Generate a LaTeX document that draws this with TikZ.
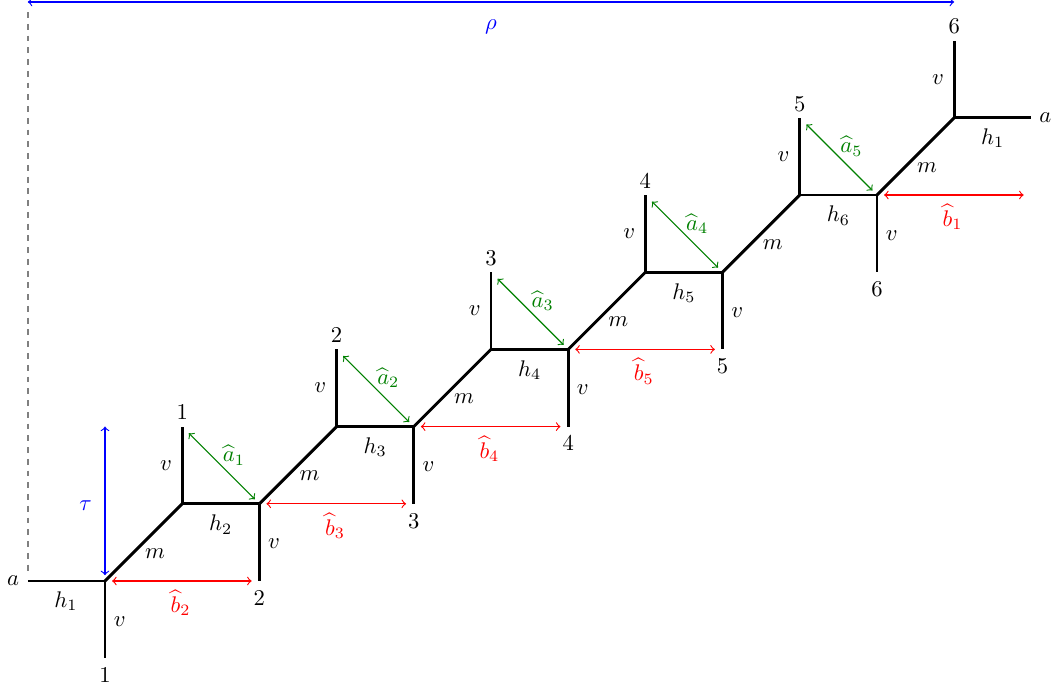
\documentclass[tikz,border=0pt]{standalone}
\begin{document}
\begin{tikzpicture}[x=1.2cm,y=1.2cm,
  leg/.style={line width=1.3pt,black},
  arr/.style={<->,line width=0.5pt},
  aarr/.style={arr,green!50!black,shorten <=0.145cm,shorten >=0.1cm},
  barr/.style={arr,red,shorten <=0.11cm,shorten >=0.12cm},
  lab/.style={inner sep=0pt},
  alab/.style={lab,text=green!50!black},
  blab/.style={lab,text=red},
  klab/.style={lab,text=blue}]
\useasboundingbox (-1.360,-1.399) rectangle (12.293,7.526);
% vertices
\foreach \i in {0,...,5}{
  \coordinate (L\i) at ({2*\i},{\i});
  \coordinate (U\i) at ({2*\i+1},{\i+1});
  \coordinate (D\i) at ({2*\i},{\i-1});
  \coordinate (T\i) at ({2*\i+1},{\i+2});
  \coordinate (E\i) at ({2*\i+2},{\i});
}
\coordinate (A) at (-1,0);
\coordinate (B) at (12,6);
\coordinate (tautop) at (0,2);
\coordinate (rhoL) at (-1,7.5);
\coordinate (rhoR) at (11,7.5);
\coordinate (dashtop) at (-1,7.37);
\coordinate (dashbot) at (-1,0.12);
% legs
\draw[leg] (A) -- (L0);
\draw[leg] (U5) -- (B);
\foreach \i/\j in {0/1,1/2,2/3,3/4,4/5,5/6}{
  \draw[leg] (L\i) -- (D\i);
  \draw[leg] (L\i) -- (U\i);
  \draw[leg] (U\i) -- (T\i);
  \node[lab] (m\i) at ({2*\i+0.65},{\i+0.36}) {$m$};
  \node[lab] (vu\i) at ({2*\i+0.79},{\i+1.5}) {$v$};
  \node[lab] (vd\i) at ({2*\i+0.19},{\i-0.52}) {$v$};
  \node[lab] (nt\i) at ({2*\i+1},{\i+2.18}) {$\j$};
  \node[lab] (nd\i) at ({2*\i},{\i-1.22}) {$\j$};
}
\foreach \i/\j/\k in {0/1/2,1/2/3,2/3/4,3/4/5,4/5/6}{
  \draw[leg] (U\i) -- (L\j);
  \node[lab] (h\k) at ({2*\i+1.5},{\i+0.73}) {$h_{\k}$};
  \draw[aarr] (T\i) -- (L\j);
  \node[alab] (a\j) at ({2*\i+1.67},{\i+1.63}) {$\widehat{a}_{\j}$};
}
\node[lab] (hL) at (-0.505,-0.26) {$h_1$};
\node[lab] (hR) at (11.5,5.74) {$h_1$};
\node[lab] (aL) at (-1.19,0) {$a$};
\node[lab] (aR) at (12.18,6) {$a$};
% b arrows
\foreach \i/\k in {0/2,1/3,2/4,3/5,5/1}{
  \draw[barr] (L\i) -- (E\i);
  \node[blab] (b\k) at ({2*\i+0.98},{\i-0.285}) {$\widehat{b}_{\k}$};
}
% tau and rho
\draw[arr,blue,shorten >=0.09cm] (tautop) -- (L0);
\node[klab] (tau) at (-0.25,0.98) {$\tau$};
\draw[arr,blue] (rhoL) -- (rhoR);
\node[klab] (rho) at (5,7.18) {$\rho$};
\draw[gray,line width=0.7pt,dash pattern=on 2.6pt off 2.6pt] (dashtop) -- (dashbot);
\end{tikzpicture}
\end{document}
